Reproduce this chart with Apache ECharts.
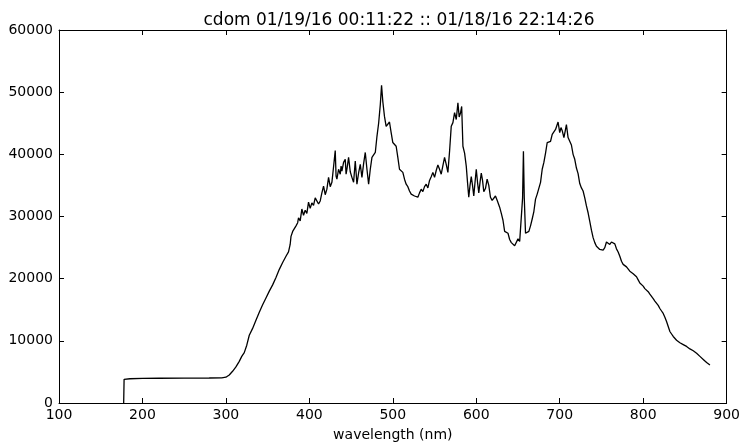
<!DOCTYPE html>
<html>
<head>
<meta charset="utf-8">
<script src="https://cdn.jsdelivr.net/npm/echarts@6/dist/echarts.min.js"></script>
<style>
  html, body { margin: 0; padding: 0; background: #fff; }
  #chart { width: 743px; height: 447px; }
</style>
</head>
<body>
<div id="chart"></div>
<script>
// spectrum (nm, counts)
var wavelength = [
  177.5, 178, 185, 200, 220, 250, 280, 295, 300, 304, 308, 312, 316, 319, 322, 325, 328, 332, 336, 340,
  344, 348, 352, 356, 360, 364, 368, 372, 375, 377, 378, 380, 382, 384, 386, 387, 389, 391, 393, 395,
  397, 399, 401, 403, 405, 407, 409, 411, 413, 415, 417, 419, 421, 423, 425, 427, 429, 431, 432, 433,
  435, 437, 438, 439, 441, 443, 444, 445, 447, 449, 451, 453, 455, 457, 459, 461, 463, 465, 467, 469,
  471, 473, 475, 477, 479, 481, 483, 485, 486.5, 488, 490, 492, 494, 496, 498, 500, 502, 504, 506, 508,
  510, 512, 514, 516, 518, 520, 522, 524, 526, 528, 530, 532, 534, 536, 538, 540, 542, 544, 546, 548,
  550, 552, 554, 556, 558, 560, 562, 564, 566, 568, 570, 572, 574, 576, 578, 579.5, 581, 582.5, 584, 586,
  588, 589.5, 591, 592.5, 594, 595.5, 597, 598.5, 600, 601.5, 603, 604.5, 606, 607.5, 609, 611, 613, 615, 617, 619,
  621, 623, 625, 628, 630, 632, 634, 636, 638, 640, 642, 644, 646, 648, 650, 652, 654, 655.5, 656.5, 657.5,
  659, 661, 663, 665, 667, 669, 671, 673, 675, 677, 679, 681, 683, 685, 687, 689, 691, 693, 695, 697,
  698, 700, 701.5, 703, 705, 706.5, 708, 710, 712, 714, 716, 718, 720, 722, 724, 726, 728, 730, 732, 734,
  736, 738, 740, 742, 744, 746, 748, 750, 752, 754, 756, 758, 760, 762, 764, 766, 768, 770, 772, 774,
  776, 778, 780, 782, 784, 786, 788, 790, 792, 794, 796, 798, 800, 802, 804, 806, 808, 810, 812, 814,
  816, 818, 820, 822, 824, 826, 828, 830, 832, 834, 836, 838, 840, 844, 848, 852, 856, 860, 864, 868,
  872, 876, 880
];
var counts = [
  0, 3800, 3900, 3950, 3980, 4000, 4020, 4050, 4150, 4500, 5100, 5800, 6700, 7500, 8100, 9300, 10900, 12000, 13300, 14600,
  15800, 16900, 18000, 19000, 20200, 21500, 22600, 23600, 24300, 25500, 26800, 27600, 27800, 28500, 29000, 29800, 29300, 31200, 30200, 31000,
  30500, 32300, 31300, 32200, 31800, 33000, 33300, 32000, 32500, 33800, 34900, 33500, 34400, 36300, 34800, 35500, 38000, 40600, 36500, 36000,
  37600, 36800, 38100, 37300, 38700, 39200, 36800, 37600, 39500, 37200, 36300, 35500, 38900, 35200, 37000, 38400, 36300, 38500, 40300, 37600,
  35200, 37600, 39500, 39800, 40300, 42900, 45000, 48000, 51100, 48500, 46100, 44500, 44300, 45200, 43500, 41900, 41600, 41300, 39500, 37600,
  37300, 37100, 36000, 35200, 34800, 34100, 33600, 33400, 33300, 33300, 33100, 33800, 34400, 34000, 34800, 35200, 34600, 35800, 36400, 37100,
  36300, 37400, 38300, 37600, 36800, 38200, 39500, 38400, 37100, 40500, 44500, 45100, 46700, 45600, 48300, 46000, 46600, 47700, 41300, 40200,
  38100, 35500, 33100, 35000, 36400, 35000, 33300, 35500, 37600, 35500, 33800, 35500, 37000, 35800, 34000, 34500, 36000, 35000, 33100, 32600,
  32800, 33300, 32600, 31500, 30500, 29400, 27600, 27800, 27300, 26300, 25800, 25600, 25300, 25600, 26400, 26000, 26300, 33000, 40500, 33000,
  27300, 27000, 27600, 28500, 29600, 30800, 32800, 33600, 33900, 35500, 37600, 38700, 40200, 41900, 42000, 42100, 43200, 43300, 44000, 44200,
  45200, 43500, 44300, 43800, 42700, 43700, 44800, 42700, 42500, 41500, 40000, 39200, 37800, 36900, 35300, 34600, 34100, 33000, 31700, 30600,
  29200, 27800, 26600, 25800, 25200, 25000, 24700, 24900, 24600, 25000, 25900, 25800, 25500, 25900, 25800, 25600, 24800, 24300, 23600, 22800,
  22300, 22000, 21900, 21700, 21200, 21000, 20800, 20500, 20300, 19800, 19300, 19100, 18800, 18400, 18100, 17900, 17500, 17200, 16800, 16400,
  16100, 15700, 15200, 14800, 14400, 13800, 13100, 12300, 11500, 11100, 10700, 10400, 10100, 9700, 9400, 9100, 8700, 8400, 8000, 7500,
  7000, 6500, 6100
];
var xTicks = [100, 200, 300, 400, 500, 600, 700, 800, 900];
var yTicks = [0, 10000, 20000, 30000, 40000, 50000, 60000];
var titleText = "cdom 01/19/16 00:11:22 :: 01/18/16 22:14:26";

var font = "DejaVu Sans";
var points = [];
for (var i = 0; i < wavelength.length; i++) {
  points.push([wavelength[i], counts[i]]);
}

function plain(v) { return String(v); }

function xAxisDef(pos, showLabel) {
  return {
    type: "value",
    position: pos,
    min: xTicks[0],
    max: xTicks[xTicks.length - 1],
    interval: 100,
    name: showLabel ? "wavelength (nm)" : "",
    nameLocation: "middle",
    nameGap: 25,
    nameTextStyle: { color: "#000", fontFamily: font, fontSize: 14 },
    axisLine: { show: true, onZero: false, lineStyle: { color: "#000", width: 1 } },
    axisTick: { show: true, inside: true, length: 5, lineStyle: { color: "#000" } },
    axisLabel: { show: showLabel, color: "#000", fontFamily: font, fontSize: 14, margin: 5, formatter: plain },
    splitLine: { show: false }
  };
}
function yAxisDef(pos, showLabel) {
  return {
    type: "value",
    position: pos,
    min: yTicks[0],
    max: yTicks[yTicks.length - 1],
    interval: 10000,
    axisLine: { show: true, onZero: false, lineStyle: { color: "#000", width: 1 } },
    axisTick: { show: true, inside: true, length: 5, lineStyle: { color: "#000" } },
    axisLabel: { show: showLabel, color: "#000", fontFamily: font, fontSize: 14, margin: 6, formatter: plain },
    splitLine: { show: false }
  };
}

var chart = echarts.init(document.getElementById("chart"));
chart.setOption({
  animation: false,
  backgroundColor: "#fff",
  title: {
    text: titleText,
    left: 394,
    textAlign: "center",
    top: 7,
    textStyle: { color: "#000", fontFamily: font, fontSize: 17, fontWeight: "normal" }
  },
  grid: { left: 59, right: 13, top: 30, bottom: 42, containLabel: false },
  xAxis: [xAxisDef("bottom", true), xAxisDef("top", false)],
  yAxis: [yAxisDef("left", true), yAxisDef("right", false)],
  series: [{
    type: "line",
    data: points,
    showSymbol: false,
    lineStyle: { color: "#000", width: 1.3 },
    z: 3
  }]
});
</script>
</body>
</html>
